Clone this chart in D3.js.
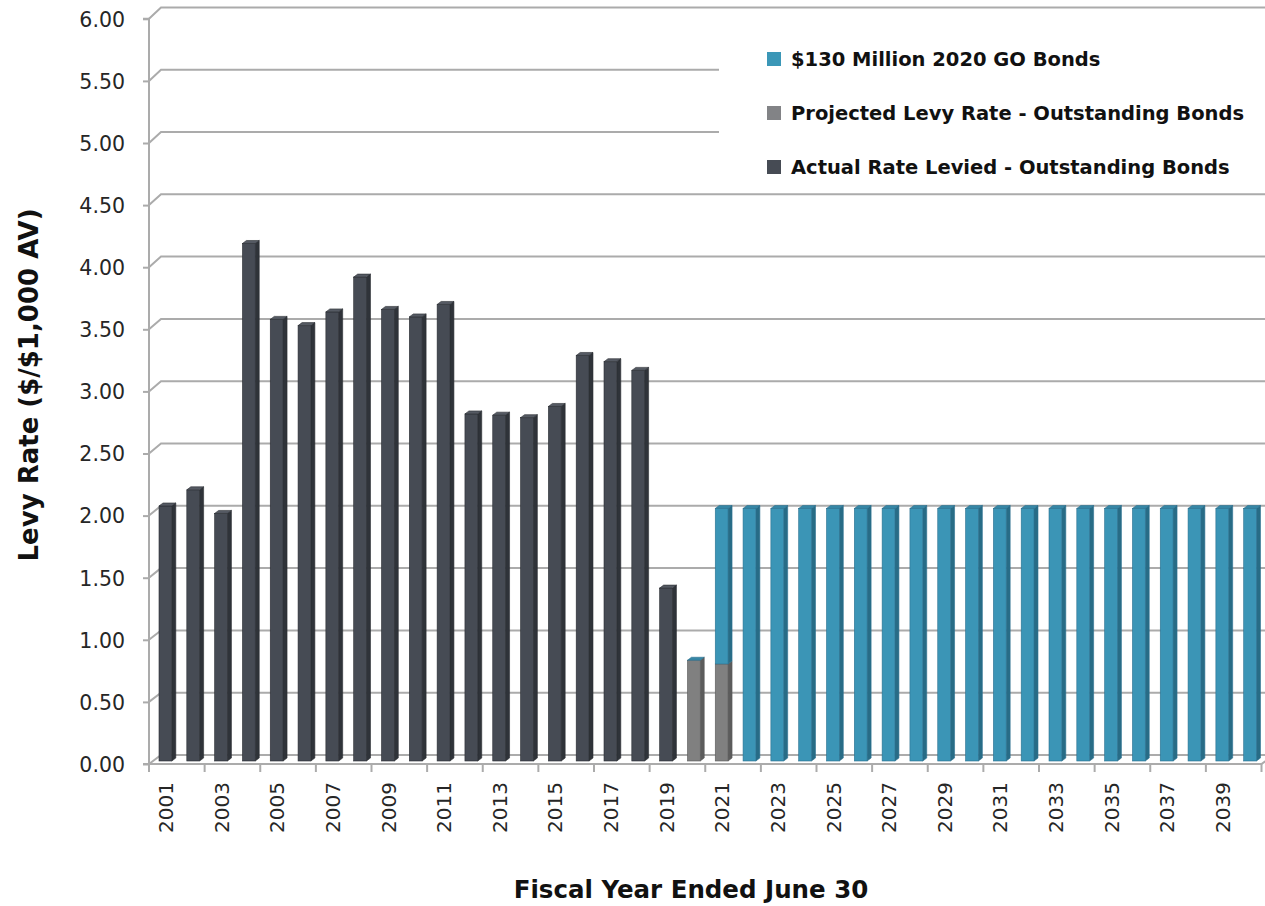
<!DOCTYPE html>
<html>
<head>
<meta charset="utf-8">
<script src="https://cdn.jsdelivr.net/npm/d3@7"></script>
<style>
  html, body { margin: 0; padding: 0; background: #ffffff; }
  svg { display: block; }
  text { font-family: "DejaVu Sans", sans-serif; }
</style>
</head>
<body>
<svg id="chart" width="1265" height="906"></svg>
<script>
// Fiscal years shown on the category axis
const years = [2001, 2002, 2003, 2004, 2005, 2006, 2007, 2008, 2009, 2010,
               2011, 2012, 2013, 2014, 2015, 2016, 2017, 2018, 2019, 2020,
               2021, 2022, 2023, 2024, 2025, 2026, 2027, 2028, 2029, 2030,
               2031, 2032, 2033, 2034, 2035, 2036, 2037, 2038, 2039, 2040];

// Levy rate, $ per $1,000 of assessed value (null = no segment that year)
const actualLevied = [2.05, 2.18, 1.99, 4.16, 3.55, 3.50, 3.61, 3.89, 3.63, 3.57,
                      3.67, 2.79, 2.78, 2.76, 2.85, 3.26, 3.21, 3.14, 1.39, null,
                      null, null, null, null, null, null, null, null, null, null,
                      null, null, null, null, null, null, null, null, null, null];
const projectedLevy = [null, null, null, null, null, null, null, null, null, null,
                       null, null, null, null, null, null, null, null, null, 0.81,
                       0.78, null, null, null, null, null, null, null, null, null,
                       null, null, null, null, null, null, null, null, null, null];
const newGoBonds = [null, null, null, null, null, null, null, null, null, null,
                    null, null, null, null, null, null, null, null, null, 0.00,
                    1.25, 2.03, 2.03, 2.03, 2.03, 2.03, 2.03, 2.03, 2.03, 2.03,
                    2.03, 2.03, 2.03, 2.03, 2.03, 2.03, 2.03, 2.03, 2.03, 2.03];

const yTickValues = [0, 0.5, 1, 1.5, 2, 2.5, 3, 3.5, 4, 4.5, 5, 5.5, 6];
const xLabelYears = [2001, 2003, 2005, 2007, 2009, 2011, 2013, 2015, 2017, 2019,
                     2021, 2023, 2025, 2027, 2029, 2031, 2033, 2035, 2037, 2039];

const seriesNames = ["Actual Rate Levied - Outstanding Bonds",
                     "Projected Levy Rate - Outstanding Bonds",
                     "$130 Million 2020 GO Bonds"];
const legendOrder = ["$130 Million 2020 GO Bonds",
                     "Projected Levy Rate - Outstanding Bonds",
                     "Actual Rate Levied - Outstanding Bonds"];

// Face shades for each series: front, side, top
const palette = {
  "Actual Rate Levied - Outstanding Bonds": { front: "#464b54", side: "#2f3339", top: "#555a63", edge: "#2a2d33", key: "#464b54" },
  "Projected Levy Rate - Outstanding Bonds": { front: "#808080", side: "#5c5c5c", top: "#8e8e8e", edge: "#5a5a5a", key: "#828386" },
  "$130 Million 2020 GO Bonds": { front: "#3b95b6", side: "#286c86", top: "#3687a6", edge: "#2b7190", key: "#3b97b7" }
};

const svg = d3.select("#chart");

// Oblique 3D geometry
const depthX = 12, depthY = 9;      // full floor depth
const barDX = 4, barDY = 3;         // bar thickness in depth
const left = 149, right = 1261.5;
const floorFront = 764;

const x = d3.scaleBand().domain(years).range([left, right]).paddingInner(0).paddingOuter(0);
const yFront = d3.scaleLinear().domain([0, 6]).range([floorFront, floorFront - 6 * 124.2]);
const yBack = d3.scaleLinear().domain([0, 6]).range([floorFront - depthY, floorFront - depthY - 6 * 124.6]);
const yBar = d3.scaleLinear().domain([0, 6]).range([761, 761 - 6 * 124.4]);

const gridColor = "#ababab";

// Side wall + back wall gridlines
const grid = svg.append("g").attr("class", "grid")
  .attr("fill", "none").attr("stroke", gridColor).attr("stroke-width", 2);
grid.selectAll("path.gl").data(yTickValues).join("path")
  .attr("class", "gl")
  .attr("d", v => `M${left},${yFront(v)} L${left + depthX},${yBack(v)} L1270,${yBack(v)}`);

// Floor outline
grid.append("path")
  .attr("d", `M${left},${floorFront} L${right},${floorFront} L${right + depthX},${floorFront - depthY}`);

// Front value axis
const yAxis = d3.axisLeft(yFront).tickValues(yTickValues).tickFormat(d3.format(".2f")).tickSize(6).tickPadding(18);
const yAxisG = svg.append("g").attr("transform", `translate(${left},0)`).call(yAxis);
yAxisG.select(".domain").attr("stroke", gridColor).attr("stroke-width", 2).attr("d", `M-6,${yFront(6)}H0V${yFront(0)}H-6`);
yAxisG.selectAll(".tick line").attr("stroke", gridColor).attr("stroke-width", 2);
yAxisG.selectAll(".tick text")
  .attr("fill", "#262626").style("font-size", "20.5px").style("font-family", "DejaVu Sans").attr("dy", "0.36em");

// Category axis: tick marks every two years at band edges
const tickYears = xLabelYears.concat([null]);
svg.append("g").selectAll("line").data(tickYears).join("line")
  .attr("x1", d => d === null ? right : x(d))
  .attr("x2", d => d === null ? right : x(d))
  .attr("y1", floorFront).attr("y2", floorFront + 8)
  .attr("stroke", gridColor).attr("stroke-width", 2);

const xAxis = d3.axisBottom(x).tickValues(xLabelYears).tickSize(0).tickPadding(0);
const xAxisG = svg.append("g").attr("transform", `translate(0,${floorFront})`).call(xAxis);
xAxisG.select(".domain").remove();
xAxisG.selectAll(".tick text")
  .attr("transform", "translate(3,18) rotate(-90)")
  .attr("text-anchor", "end")
  .attr("x", 0).attr("y", 0).attr("dy", "0.36em")
  .attr("fill", "#262626").style("font-size", "20px").style("font-family", "DejaVu Sans");

// Stacked 3D columns
const seriesValues = [actualLevied, projectedLevy, newGoBonds];
const barOffset = 10, barW = 12.8;
const bars = svg.append("g").attr("class", "bars");

years.forEach((yr, i) => {
  let base = 0;
  const segs = [];
  seriesValues.forEach((vals, s) => {
    const v = vals[i];
    if (v === null) return;
    segs.push({ name: seriesNames[s], y0: base, y1: base + v });
    base += v;
  });
  const xl = x(yr) + barOffset, xr = xl + barW;
  segs.forEach((sg, k) => {
    const c = palette[sg.name];
    const yt = yBar(sg.y1), yb = yBar(sg.y0);
    const g = bars.append("g");
    if (yb - yt > 0) {
      g.append("path")
        .attr("d", `M${xr},${yb} L${xr + barDX},${yb - barDY} L${xr + barDX},${yt - barDY} L${xr},${yt} Z`)
        .attr("fill", c.side).attr("stroke", c.edge).attr("stroke-width", 0.6);
      g.append("rect")
        .attr("x", xl).attr("y", yt).attr("width", barW).attr("height", yb - yt)
        .attr("fill", c.front).attr("stroke", c.edge).attr("stroke-width", 0.6);
    }
    if (k === segs.length - 1) {
      g.append("path")
        .attr("d", `M${xl},${yt} L${xl + barDX},${yt - barDY} L${xr + barDX},${yt - barDY} L${xr},${yt} Z`)
        .attr("fill", c.top).attr("stroke", c.edge).attr("stroke-width", 0.6);
    }
  });
});

// Legend panel
const legend = svg.append("g").attr("class", "legend");
legend.append("rect").attr("x", 719).attr("y", 22).attr("width", 560).attr("height", 162).attr("fill", "#ffffff");
const legendRows = legend.selectAll("g.row").data(legendOrder).join("g")
  .attr("class", "row")
  .attr("transform", (d, i) => `translate(767,${59 + i * 54})`);
legendRows.append("rect")
  .attr("x", 0).attr("y", -7).attr("width", 14).attr("height", 14)
  .attr("fill", d => palette[d].key);
legendRows.append("text")
  .attr("x", 24).attr("y", 0).attr("dy", "0.36em")
  .attr("fill", "#111111")
  .style("font-size", "19.5px").style("font-weight", "bold")
  .text(d => d);

// Axis titles
svg.append("text")
  .attr("transform", "translate(29,385) rotate(-90)")
  .attr("text-anchor", "middle").attr("dy", "0.36em")
  .attr("fill", "#111111")
  .style("font-size", "26px").style("font-weight", "bold")
  .text("Levy Rate ($/$1,000 AV)");

svg.append("text")
  .attr("x", 691).attr("y", 889).attr("text-anchor", "middle").attr("dy", "0.36em")
  .attr("fill", "#111111")
  .style("font-size", "24.5px").style("font-weight", "bold")
  .text("Fiscal Year Ended June 30");
</script>
</body>
</html>
